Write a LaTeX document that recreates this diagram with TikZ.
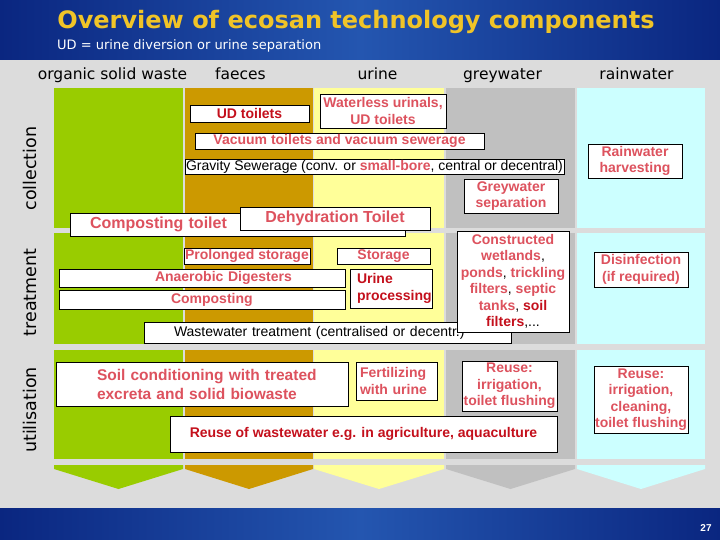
\documentclass[tikz,border=0pt]{standalone}
\usepackage{fontspec}
\usepackage{xcolor}
\setmainfont{Liberation Sans}
\newfontfamily\verdfont{DejaVu Sans}

\definecolor{banddark}{RGB}{10,38,128}
\definecolor{bandmid}{RGB}{36,86,176}
\definecolor{titleyellow}{RGB}{240,196,40}
\definecolor{panelgrey}{RGB}{220,220,220}
\definecolor{oswgreen}{RGB}{153,204,0}
\definecolor{faecbrown}{RGB}{204,153,0}
\definecolor{urinyellow}{RGB}{255,255,153}
\definecolor{greywgrey}{RGB}{192,192,192}
\definecolor{raincyan}{RGB}{204,255,255}
\definecolor{txtpink}{RGB}{221,82,94}
\definecolor{txtred}{RGB}{196,16,28}

\tikzset{
  box/.style={draw=black, line width=0.7pt, fill=white, inner sep=1pt,
    font=\bfseries\fontsize{14}{16.5}\selectfont, text=txtpink, align=center},
  leftbox/.style={box, align=left},
  plainbox/.style={box, font=\fontsize{14}{16}\selectfont, text=black},
  bigbox/.style={box, font=\bfseries\fontsize{16}{19}\selectfont},
  head/.style={font=\verdfont\fontsize{15.5}{18}\selectfont, anchor=base},
  rowlabel/.style={font=\verdfont\fontsize{17.5}{20}\selectfont, rotate=90}
}

\begin{document}
\begin{tikzpicture}[x=1pt,y=-1pt]
  \useasboundingbox (0,0) rectangle (720,540);
  % background and blue bands
  \fill[panelgrey] (0,60) rectangle (720,508);
  \shade[left color=banddark, right color=banddark, middle color=bandmid] (0,0) rectangle (720,60);
  \shade[left color=banddark, right color=banddark, middle color=bandmid] (0,508) rectangle (720,540);
  % title
  \node[font=\verdfont\bfseries\fontsize{24}{28}\selectfont, text=titleyellow] (title) at (356,22) {Overview of ecosan technology components};
  \node[anchor=west, inner sep=0pt, font=\verdfont\fontsize{13}{15}\selectfont, text=white] (subtitle) at (57,46) {UD = urine diversion or urine separation};
  % column heads
  \foreach \x/\t [count=\i] in {112.5/organic solid waste,240.5/faeces,377.5/urine,502.5/greywater,636.5/rainwater} {
    \node[head] (head\i) at (\x,80) {\t};
  }
  % row labels
  \node[rowlabel] (collection) at (30,168.5) {collection};
  \node[rowlabel] (treatment) at (30,292.5) {treatment};
  \node[rowlabel] (utilisation) at (30,410) {utilisation};
  % coloured columns with chevrons
  \foreach \xa/\xb/\c in {54/183/oswgreen,185/313/faecbrown,314/444/urinyellow,446/575/greywgrey,577/705/raincyan} {
    \foreach \ya/\yb in {88/228,233/344,350/459} {
      \fill[\c] (\xa,\ya) rectangle (\xb,\yb);
    }
    \fill[\c] (\xa,465) -- (\xb,465) -- (\xb,469) -- ({(\xa+\xb)/2},489) -- (\xa,469) -- cycle;
  }
  % collection
  \node[box, text=txtred, minimum width=119pt, minimum height=17pt] (udtoilets) at (249.5,113.5) {UD toilets};
  \node[box, minimum width=126pt, minimum height=34pt] (waterless) at (383,111) {Waterless urinals,\\UD toilets};
  \node[box, minimum width=289pt, minimum height=16pt] (vacuum) at (339.5,141) {Vacuum toilets and vacuum sewerage};
  \node[plainbox, minimum width=379pt, minimum height=15pt] (gravity) at (374.5,166.5) {Gravity Sewerage (conv. or \textbf{\textcolor{txtpink}{small-bore}}, central or decentral)};
  \node[box, minimum width=94pt, minimum height=34pt] (greysep) at (511,196) {Greywater\\separation};
  \node[box, minimum width=94pt, minimum height=34pt] (harvest) at (635,161) {Rainwater\\harvesting};
  \node[bigbox, align=left, text width=295pt, inner xsep=20pt, minimum height=23pt] (comptoilet) at (237.5,224.5) {Composting toilet};
  \node[bigbox, minimum width=190pt, minimum height=23pt] (dehydration) at (335,218.5) {Dehydration Toilet};
  % treatment
  \node[box, minimum width=126pt, minimum height=16pt] (prolonged) at (247,256) {Prolonged storage};
  \node[box, minimum width=93pt, minimum height=16pt] (storage) at (383.5,256) {Storage};
  \node[leftbox, text width=94pt, inner xsep=96pt, minimum height=18pt] (anaerobic) at (202,278) {\mbox{Anaerobic Digesters}};
  \node[leftbox, text width=62pt, inner xsep=112pt, minimum height=19pt] (composting) at (202,299.5) {\mbox{Composting}};
  \node[leftbox, text=txtred, text width=68pt, inner xsep=7pt, minimum height=39pt] (urineproc) at (391,288.5) {Urine\\processing};
  \node[plainbox, align=left, text width=307pt, inner xsep=30pt, minimum height=21pt] (wwtreat) at (327.5,332.5) {Wastewater treatment (centralised or decentr.)};
  \node[box, minimum width=112pt, minimum height=101pt] (wetlands) at (513,281.5) {Constructed\\wetlands{\mdseries\color{black},}\\ponds{\mdseries\color{black},} trickling\\filters{\mdseries\color{black},} septic\\tanks{\mdseries\color{black},} \textcolor{txtred}{soil}\\\textcolor{txtred}{filters}{\mdseries\color{black},...}};
  \node[box, minimum width=94pt, minimum height=35pt] (disinfect) at (641,269.5) {Disinfection\\(if required)};
  % utilisation
  \node[leftbox, font=\bfseries\fontsize{15.5}{19}\selectfont, text width=210pt, inner xsep=41pt, minimum height=44pt] (soilcond) at (202,384) {\mbox{Soil conditioning with treated}\\\mbox{excreta and solid biowaste}};
  \node[leftbox, text width=73pt, inner xsep=4pt, minimum height=38pt] (fertilize) at (396.5,381) {Fertilizing\\with urine};
  \node[box, minimum width=95pt, minimum height=50pt] (reusegw) at (509.5,386) {Reuse:\\irrigation,\\toilet flushing};
  \node[box, text=txtred, minimum width=387pt, minimum height=36pt] (reuseww) at (363.5,434) {Reuse of wastewater e.g. in agriculture, aquaculture};
  \node[box, minimum width=94pt, minimum height=67pt] (reuserain) at (641,399.5) {Reuse:\\irrigation,\\cleaning,\\toilet flushing};
  % page number
  \node[text=white, font=\bfseries\fontsize{10}{12}\selectfont] (pagenum) at (706,528) {27};
\end{tikzpicture}
\end{document}
